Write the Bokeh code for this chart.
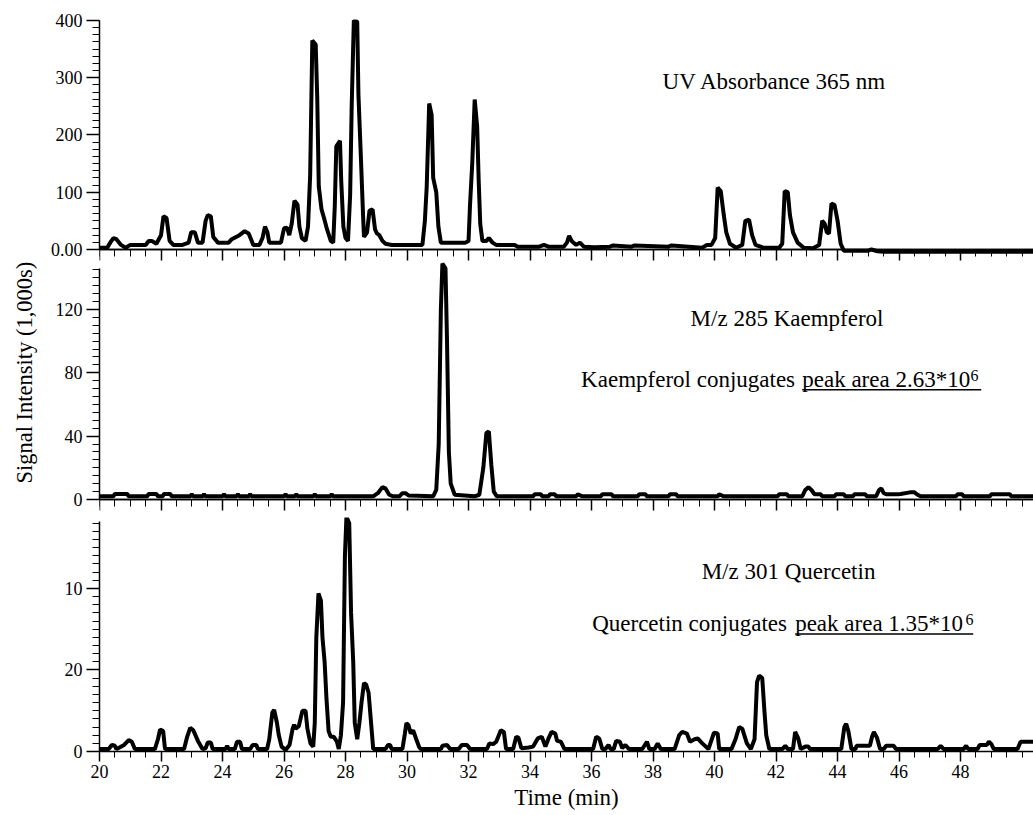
from bokeh.plotting import figure
from bokeh.layouts import column
from bokeh.models import Range1d, FixedTicker, Label, LinearAxis
from bokeh.embed import file_html
from bokeh.resources import INLINE
import numpy as np

# ---------------- data ----------------
uv_t = [20.0, 20.25, 20.35, 20.45, 20.55, 20.7, 20.85, 21.0, 21.5, 21.6, 21.7, 21.85, 22.0, 22.08, 22.18,
        22.28, 22.4, 22.7, 22.9, 22.98, 23.1, 23.2, 23.35, 23.45, 23.52, 23.62, 23.7, 23.85, 24.2, 24.3,
        24.55, 24.72, 24.85, 24.95, 25.0, 25.2, 25.3, 25.38, 25.46, 25.52, 25.9, 26.0, 26.1, 26.17, 26.25,
        26.34, 26.44, 26.5, 26.58, 26.7, 26.78, 26.85, 26.92, 27.03, 27.08, 27.13, 27.22, 27.3, 27.4, 27.52,
        27.6, 27.65, 27.7, 27.82, 27.86, 27.93, 28.0, 28.08, 28.15, 28.2, 28.27, 28.38, 28.42, 28.5, 28.57,
        28.6, 28.7, 28.78, 28.88, 28.96, 29.02, 29.1, 29.2, 29.3, 29.5, 30.5, 30.58, 30.64, 30.72, 30.8,
        30.85, 30.95, 31.02, 31.1, 31.9, 32.0, 32.05, 32.12, 32.2, 32.28, 32.33, 32.38, 32.45, 32.58, 32.66,
        32.78, 32.9, 33.5, 33.6, 34.3, 34.45, 34.6, 35.1, 35.2, 35.27, 35.35, 35.5, 35.62, 35.75, 36.1,
        36.6, 36.7, 37.3, 37.4, 38.5, 38.6, 39.6, 39.75, 39.9, 40.02, 40.1, 40.2, 40.3, 40.38, 40.5,
        40.7, 40.9, 41.0, 41.12, 41.22, 41.33, 41.6, 42.1, 42.2, 42.28, 42.38, 42.45, 42.55, 42.7, 42.9,
        43.2, 43.4, 43.5, 43.58, 43.65, 43.72, 43.8, 43.9, 44.0, 44.1, 44.2, 45.0, 45.1, 45.3, 45.5,
        46.0, 50.4]
uv_v = [3, 3, 12, 20, 18, 8, 3, 8, 8, 15, 15, 10, 25, 58, 55,
        15, 8, 8, 12, 30, 30, 12, 12, 50, 60, 58, 22, 12, 12, 18,
        25, 32, 28, 15, 8, 8, 20, 40, 30, 12, 12, 37, 38, 25, 45,
        85, 78, 40, 20, 15, 40, 130, 365, 358, 265, 110, 70, 55, 35, 15,
        12, 75, 180, 190, 120, 40, 20, 15, 95, 250, 400, 398, 270, 160, 60,
        22, 30, 68, 70, 35, 28, 25, 15, 10, 8, 8, 50, 110, 255, 235,
        125, 100, 40, 12, 12, 15, 80, 150, 262, 215, 120, 45, 15, 15, 20,
        12, 8, 8, 5, 5, 8, 5, 5, 12, 24, 15, 8, 12, 5, 4,
        5, 7, 5, 7, 5, 7, 3, 8, 8, 20, 108, 102, 60, 30, 10,
        3, 8, 50, 52, 25, 8, 3, 3, 10, 102, 100, 60, 30, 12, 3,
        2, 8, 50, 45, 30, 28, 80, 78, 50, 10, -2, -2, 0, -3, -4,
        -4, -4]

kae_t = [20.0, 20.45, 20.5, 20.9, 20.95, 21.55, 21.6, 21.85, 21.9, 22.05, 22.1, 22.3, 22.35, 22.95, 23.0,
         23.05, 23.35, 23.4, 23.45, 24.0, 24.05, 24.1, 24.45, 24.5, 24.55, 24.85, 24.9, 24.95, 26.0, 26.05,
         26.1, 26.35, 26.4, 26.45, 26.95, 27.0, 27.05, 27.5, 27.55, 27.6, 28.9, 29.05, 29.2, 29.3, 29.42,
         29.55, 29.75, 29.85, 29.95, 30.05, 30.85, 30.95, 31.03, 31.1, 31.15, 31.25, 31.3, 31.36, 31.42,
         31.55, 32.2, 32.35, 32.48, 32.58, 32.66, 32.74, 32.82, 32.92, 34.1, 34.15, 34.35, 34.4, 34.6,
         34.65, 34.8, 34.85, 35.5, 35.55, 35.7, 36.3, 36.35, 36.65, 36.7, 37.5, 37.55, 37.75, 37.8, 38.5,
         38.55, 38.75, 38.8, 40.1, 40.15, 40.3, 42.05, 42.1, 42.35, 42.4, 42.85, 42.95, 43.05, 43.15,
         43.25, 43.45, 43.5, 43.9, 43.95, 44.2, 44.25, 44.5, 44.55, 44.9, 44.95, 45.25, 45.35, 45.42,
         45.5, 45.6, 45.95, 46.05, 46.35, 46.5, 46.6, 46.7, 47.85, 47.9, 48.05, 48.1, 48.95, 49.0, 49.6,
         49.65, 50.4]
kae_v = [2, 2, 3.5, 3.5, 2, 2, 3.5, 3.5, 2, 2, 3.5, 3.5, 2, 2, 3.3,
         2, 2, 3.3, 2, 2, 3.3, 2, 2, 3.3, 2, 2, 3.3, 2, 2, 3.3,
         2, 2, 3.3, 2, 2, 3.3, 2, 2, 3.3, 2, 2, 4, 7.8, 7, 3,
         2, 2, 4, 4, 2.5, 2, 6, 35, 120, 149, 146, 100, 30, 10,
         3, 2, 3, 20, 42, 43, 22, 5, 2, 2, 3.3, 3.3, 2, 2,
         3.3, 3.3, 2, 2, 3.3, 2, 2, 3.3, 3.3, 2, 2, 3.3, 3.3, 2, 2,
         3.3, 3.3, 2, 2, 3.3, 2, 2, 3.3, 3.3, 2, 2, 6, 7.8, 6,
         3.3, 3.3, 2, 2, 3.3, 3.3, 2, 2, 3.3, 3.3, 2, 2, 6, 7,
         4, 3.3, 3.3, 3.5, 4.5, 4.5, 3, 2, 2, 3.3, 3.3, 2, 2, 3.3, 3.3,
         2, 2]

que_t = [20.0, 20.3, 20.4, 20.5, 20.55, 20.65, 20.8, 20.95, 21.05, 21.15, 21.8, 21.9, 21.97, 22.07, 22.13,
         22.75, 22.85, 22.95, 23.05, 23.2, 23.35, 23.45, 23.52, 23.62, 23.68, 24.1, 24.15, 24.2, 24.4, 24.47,
         24.57, 24.63, 24.9, 24.98, 25.1, 25.15, 25.45, 25.52, 25.62, 25.68, 25.77, 25.83, 25.92, 26.05, 26.18,
         26.28, 26.33, 26.38, 26.48, 26.56, 26.6, 26.7, 26.76, 26.86, 26.95, 27.0, 27.05, 27.12, 27.2, 27.25,
         27.32, 27.38, 27.45, 27.52, 27.62, 27.72, 27.78, 27.85, 27.92, 27.98, 28.03, 28.12, 28.18, 28.25, 28.3,
         28.38, 28.45, 28.52, 28.6, 28.67, 28.75, 28.82, 28.9, 29.3, 29.38, 29.45, 29.5, 29.85, 29.93, 29.98,
         30.05, 30.12, 30.2, 30.3, 30.4, 30.45, 31.1, 31.15, 31.3, 31.4, 31.68, 31.78, 31.95, 32.05, 32.6,
         32.68, 32.8, 32.9, 33.05, 33.15, 33.22, 33.45, 33.55, 33.62, 33.72, 33.95, 34.1, 34.25, 34.38, 34.5,
         34.6, 34.7, 34.82, 34.88, 35.0, 35.12, 36.05, 36.15, 36.25, 36.35, 36.45, 36.55, 36.62, 36.72, 36.8,
         36.92, 37.0, 37.1, 37.22, 37.65, 37.8, 37.88, 38.05, 38.15, 38.25, 38.7, 38.85, 38.95, 39.1, 39.2,
         39.35, 39.45, 39.6, 39.8, 39.98, 40.1, 40.15, 40.55, 40.68, 40.8, 40.9, 41.05, 41.18, 41.3, 41.38,
         41.45, 41.55, 41.62, 41.68, 41.78, 42.2, 42.3, 42.38, 42.55, 42.62, 42.72, 42.8, 42.95, 43.05, 43.1,
         44.12, 44.22, 44.28, 44.35, 44.45, 44.58, 44.62, 45.05, 45.12, 45.18, 45.28, 45.38, 45.5, 45.58, 45.82,
         45.9, 47.25, 47.35, 47.45, 48.1, 48.18, 48.25, 48.55, 48.62, 48.85, 48.92, 49.0, 49.08, 49.85, 49.95,
         50.4]
que_v = [0.3, 0.3, 0.8, 0.7, 0.3, 0.5, 0.8, 1.4, 1.2, 0.3, 0.3, 1.5, 2.7, 2.5, 0.3,
         0.3, 1.8, 2.9, 2.6, 1.3, 0.3, 0.4, 1.1, 1.1, 0.3, 0.3, 0.7, 0.3, 0.3, 1.2,
         1.2, 0.3, 0.3, 0.8, 0.8, 0.3, 0.3, 1.5, 4.8, 5.1, 3.5, 2.0, 0.6, 0.2, 0.8,
         2.8, 3.3, 2.8, 3.1, 4.4, 5.0, 5.0, 2.8, 1.0, 0.6, 3.5, 14, 19.4, 18.5, 14,
         11, 6.5, 2.5, 1.8, 1.8, 1.2, 0.3, 2, 6, 24, 28.8, 28.0, 17, 11, 3.5,
         1.5, 3.5, 6, 8.4, 8.2, 7.2, 4, 0.3, 0.3, 0.8, 0.8, 0.3, 0.3, 2.2, 3.5,
         3.2, 2.2, 2.6, 1.5, 0.5, 0.3, 0.3, 0.7, 0.8, 0.3, 0.3, 0.8, 0.8, 0.3, 0.3,
         1.0, 0.9, 1.2, 2.6, 2.4, 0.3, 0.3, 1.8, 1.7, 0.4, 0.5, 0.6, 1.6, 1.8, 0.6,
         1.6, 2.4, 2.2, 1.3, 1.2, 0.3, 0.3, 1.8, 1.6, 0.3, 0.3, 0.8, 0.3, 0.3, 1.3,
         1.2, 0.4, 0.8, 0.3, 0.3, 1.2, 0.3, 0.3, 1.0, 0.3, 0.3, 2.0, 2.4, 2.2, 1.2,
         1.5, 1.6, 1.0, 0.3, 2.3, 2.2, 0.3, 0.3, 1.5, 3.0, 2.8, 1.0, 0.3, 1.5, 8.5,
         9.3, 9.0, 5, 2, 0.3, 0.3, 0.7, 0.3, 0.3, 2.4, 1.6, 0.3, 0.6, 0.6, 0.3,
         0.3, 3.0, 3.4, 2.5, 0.3, 0.3, 0.7, 0.7, 1.8, 2.4, 1.7, 0.3, 0.3, 0.7, 0.7,
         0.3, 0.3, 0.7, 0.3, 0.3, 0.7, 0.3, 0.3, 0.8, 0.8, 1.2, 0.9, 0.3, 0.3, 1.2,
         1.2]

x_major = [20, 22, 24, 26, 28, 30, 32, 34, 36, 38, 40, 42, 44, 46, 48]
uv_ticks = [0, 100, 200, 300, 400]
kae_ticks = [0, 40, 80, 120]
que_ticks = [0, 10, 20]
que_tick_labels = {0: "0", 10: "20", 20: "10"}

uv_title = "UV Absorbance 365 nm"
kae_title = "M/z 285 Kaempferol"
que_title = "M/z 301 Quercetin"
kae_note = ["Kaempferol conjugates ", "peak area 2.63*10", "6"]
que_note = ["Quercetin conjugates ", "peak area 1.35*10", "6"]
y_title = "Signal Intensity (1,000s)"
x_title = "Time (min)"

# ---------------- styling ----------------
FONT = "Liberation Serif"
x_minor = [float(v) for v in np.arange(20, 50.5, 0.5)]
xr = Range1d(20, 50.37)


def style_axis(ax):
    ax.axis_line_width = 1.5
    ax.axis_line_color = "black"
    ax.major_tick_line_width = 1.5
    ax.minor_tick_line_width = 1
    ax.major_tick_line_color = "black"
    ax.minor_tick_line_color = "black"
    ax.major_tick_in = 0
    ax.minor_tick_in = 0
    ax.major_label_text_font = FONT
    ax.major_label_text_font_size = "18px"
    ax.major_label_text_color = "black"
    ax.axis_label_text_font = FONT
    ax.axis_label_text_font_style = "normal"
    ax.axis_label_text_font_size = "22.5px"
    ax.axis_label_text_color = "black"


def make_fig(h, top, bottom, y0, y1, yticks, yminor, ybounds, xlabels):
    p = figure(width=1033, height=h, x_range=xr, y_range=Range1d(y0, y1),
               output_backend="svg", toolbar_location=None,
               min_border_left=99, min_border_right=0,
               min_border_top=top, min_border_bottom=bottom,
               background_fill_color="white", border_fill_color="white",
               x_axis_location="below" if xlabels else None)
    p.outline_line_color = None
    p.grid.visible = False
    p.yaxis.ticker = FixedTicker(ticks=yticks, minor_ticks=yminor)
    p.yaxis.bounds = ybounds
    style_axis(p.yaxis[0])
    p.yaxis.major_tick_out = 13
    p.yaxis.minor_tick_out = 7
    p.yaxis.major_label_standoff = 4
    if xlabels:
        p.xaxis.ticker = FixedTicker(ticks=x_major, minor_ticks=x_minor)
        style_axis(p.xaxis[0])
        p.xaxis.major_tick_out = 10
        p.xaxis.minor_tick_out = 6
        p.xaxis.major_label_standoff = 3
    else:
        # unlabeled time axis drawn at y = 0: short half-minute ticks, longer ticks every 2 min
        a = LinearAxis(ticker=FixedTicker(ticks=[], minor_ticks=x_minor), fixed_location=0)
        style_axis(a)
        a.major_tick_out = 0
        a.minor_tick_out = 7
        b = LinearAxis(ticker=FixedTicker(ticks=[], minor_ticks=x_major), fixed_location=0)
        style_axis(b)
        b.major_tick_out = 0
        b.minor_tick_out = 11
        b.minor_tick_line_width = 1.5
        p.add_layout(a, "below")
        p.add_layout(b, "below")
    return p


def add_text(p, x, y, txt, size="23px"):
    p.add_layout(Label(x=x, y=y, text=txt, text_font=FONT, text_font_size=size,
                       text_color="black", text_align="left", text_baseline="middle"))


LW = 4

# panel 1: UV   (frame 19..261 px, zero at 249 px)
p1 = make_fig(261, 19, 0, -20.96, 401.7, uv_ticks, [float(v) for v in np.arange(0, 401, 12.5)],
              (0, 400), False)
p1.line(uv_t, uv_v, line_width=LW, color="black", line_join="bevel")
p1.yaxis.major_label_overrides = {0: "0.00"}
add_text(p1, 38.31, 293.4, uv_title)

# panel 2: Kaempferol   (frame 261..517 px, zero at 499 px)
p2 = make_fig(256, 0, 0, -11.37, 150.3, kae_ticks, [float(v) for v in np.arange(0, 146, 5)],
              (0, 146), False)
p2.line(kae_t, kae_v, line_width=LW, color="black", line_join="bevel")
# leading no-break spaces lift the centred title a little, as in the original
p2.yaxis.axis_label = "\u00a0" * 6 + y_title
p2.yaxis.axis_label_standoff = 16
add_text(p2, 39.22, 114.1, kae_title)
add_text(p2, 35.66, 75.8, kae_note[0])
add_text(p2, 42.85, 75.8, kae_note[1])
add_text(p2, 48.32, 78.4, kae_note[2], "16px")
p2.segment(x0=[42.85], y0=[69.3], x1=[48.67], y1=[69.3], line_width=1.5, color="black")

# panel 3: Quercetin
p3 = make_fig(298, 0, 64, 0, 28.7, que_ticks, [float(v) for v in np.arange(0, 28.3, 1)],
              (0, 28.2), True)
p3.line(que_t, que_v, line_width=LW, color="black", line_join="bevel")
p3.yaxis.major_label_overrides = que_tick_labels
p3.xaxis.axis_label = x_title
p3.xaxis.axis_label_text_font_size = "23px"
p3.xaxis.axis_label_standoff = 4
add_text(p3, 39.58, 22.06, que_title)
add_text(p3, 36.02, 15.73, que_note[0])
add_text(p3, 42.62, 15.73, que_note[1])
add_text(p3, 48.16, 16.2, que_note[2], "16px")
p3.segment(x0=[42.62], y0=[14.4], x1=[48.41], y1=[14.4], line_width=1.5, color="black")

layout = column(p1, p2, p3, spacing=0)
open("out.html", "w").write(file_html(layout, INLINE))
